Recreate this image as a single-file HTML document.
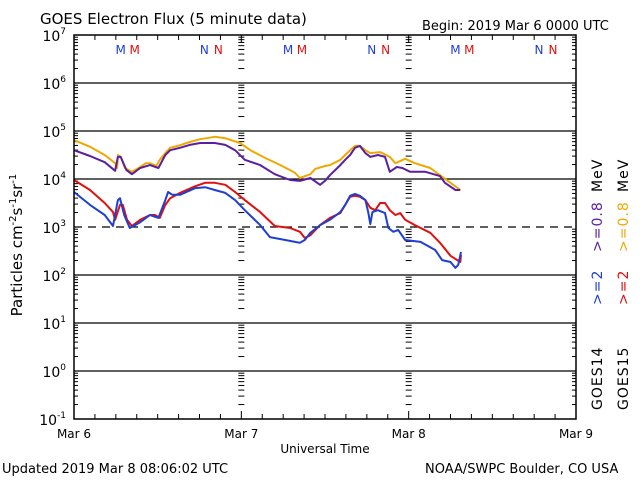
<!DOCTYPE html>
<html><head><meta charset="utf-8"><style>
html,body{margin:0;padding:0;background:#fff;width:640px;height:480px;overflow:hidden}
svg{display:block;font-family:"DejaVu Sans","Liberation Sans",sans-serif}
</style></head><body>
<svg id="chart" width="640" height="480" viewBox="0 0 640 480" xmlns="http://www.w3.org/2000/svg">
<text x="40" y="24" font-size="15">GOES Electron Flux (5 minute data)</text>
<text x="422" y="30" font-size="13">Begin: 2019 Mar 6 0000 UTC</text>
<text x="2" y="473" font-size="13">Updated 2019 Mar  8 08:06:02 UTC</text>
<text x="425" y="473" font-size="13">NOAA/SWPC Boulder, CO USA</text>
<text x="325" y="453" font-size="12" text-anchor="middle">Universal Time</text>
<text transform="translate(22,245) rotate(-90)" font-size="15" text-anchor="middle">Particles cm<tspan dy="-6" font-size="10">-2</tspan><tspan dy="6">s</tspan><tspan dy="-6" font-size="10">-1</tspan><tspan dy="6">sr</tspan><tspan dy="-6" font-size="10">-1</tspan></text>
<g id="grid"></g><g id="ticks"></g><g id="series"></g><g id="marks"></g>
<rect x="74" y="35" width="502" height="384" fill="none" stroke="#000" stroke-width="1.5"/>
<g font-size="14">
<text transform="translate(602,410) rotate(-90)" letter-spacing="1">GOES14</text>
<text transform="translate(602,305) rotate(-90)" fill="#1f3fd0" letter-spacing="1">&gt;=2</text>
<text transform="translate(602,252) rotate(-90)" fill="#5a1fa0" letter-spacing="1">&gt;=0.8</text>
<text transform="translate(602,192) rotate(-90)" letter-spacing="1">MeV</text>
</g>
<g font-size="14">
<text transform="translate(628,410) rotate(-90)" letter-spacing="1">GOES15</text>
<text transform="translate(628,305) rotate(-90)" fill="#e01010" letter-spacing="1">&gt;=2</text>
<text transform="translate(628,252) rotate(-90)" fill="#f0a800" letter-spacing="1">&gt;=0.8</text>
<text transform="translate(628,192) rotate(-90)" letter-spacing="1">MeV</text>
</g>
</svg>
<script>
const yExps=[7,6,5,4,3,2,1,0,-1];
const dayLabels=["Mar 6","Mar 7","Mar 8","Mar 9"];
const o15H=[0,2.3,4.4,5.9,6.2,6.3,6.7,7.3,8.3,9.5,10.3,10.9,11.8,12.3,13.1,13.8,14.9,16.6,18.1,20.2,21.7,23.8,25.3,27.4,29.6,31.7,32.4,33.9,34.6,36.0,36.7,38.2,38.9,39.6,40.3,41.0,41.8,42.5,43.9,45.3,46.1,47.5,48.9,51.1,52.5,54.0,55.4];
const o15V=[4.81,4.67,4.50,4.33,4.23,4.50,4.46,4.23,4.15,4.25,4.33,4.33,4.27,4.40,4.54,4.65,4.69,4.77,4.83,4.88,4.85,4.75,4.60,4.44,4.29,4.13,4.02,4.10,4.21,4.27,4.29,4.40,4.50,4.60,4.69,4.69,4.60,4.54,4.56,4.46,4.33,4.42,4.33,4.23,4.08,3.92,3.77];
const p14H=[0,2.3,4.4,5.9,6.3,6.7,7.5,8.3,9.5,10.9,12.1,13.1,13.8,15.2,16.6,18.1,20.2,21.7,23.1,24.5,26.7,28.8,31.0,32.4,33.9,35.3,36.0,36.7,38.2,38.9,39.6,40.3,41.0,41.8,42.5,43.6,44.6,45.3,46.3,47.1,48.2,50.4,52.5,53.2,54.7,55.4];
const p14V=[4.60,4.48,4.35,4.17,4.46,4.46,4.19,4.10,4.23,4.29,4.23,4.50,4.60,4.65,4.71,4.75,4.75,4.71,4.60,4.40,4.29,4.10,3.98,3.96,4.02,3.88,3.96,4.08,4.29,4.40,4.50,4.65,4.69,4.54,4.46,4.50,4.46,4.15,4.25,4.23,4.15,4.15,4.06,3.92,3.77,3.77];
const r15H=[0,2.3,4.4,5.6,5.9,6.6,7.0,7.6,8.3,9.5,10.9,11.6,12.3,13.1,13.8,15.2,17.4,18.8,20.2,21.7,23.1,24.5,26.7,28.8,31.0,32.4,33.1,33.9,35.3,36.7,38.2,38.9,39.6,40.3,41.0,41.8,42.5,43.2,43.9,44.6,45.3,46.1,46.8,47.5,48.9,51.1,52.5,54.0,55.4,55.5];
const r15V=[3.98,3.77,3.50,3.31,3.15,3.46,3.46,3.15,3.02,3.15,3.25,3.25,3.19,3.46,3.60,3.71,3.85,3.92,3.92,3.88,3.73,3.56,3.31,3.02,2.98,2.90,2.77,2.83,3.04,3.19,3.29,3.46,3.63,3.65,3.63,3.56,3.40,3.35,3.50,3.50,3.35,3.25,3.29,3.15,3.04,2.88,2.67,2.40,2.27,2.42];
const b14H=[0,2.3,4.4,5.6,6.3,6.6,7.2,8.0,9.5,10.9,12.1,13.1,13.5,14.1,15.2,17.4,18.8,20.2,21.7,23.1,24.5,26.7,28.1,30.3,31.7,32.4,33.1,33.9,35.3,36.7,38.2,38.9,39.6,40.3,41.0,41.8,42.2,42.5,42.8,43.6,44.6,45.1,45.8,46.5,47.5,49.7,51.8,52.8,54.0,54.7,55.1,55.5];
const b14V=[3.73,3.46,3.25,3.02,3.56,3.60,3.25,2.98,3.10,3.25,3.19,3.56,3.73,3.67,3.67,3.81,3.83,3.77,3.71,3.56,3.35,3.04,2.79,2.73,2.69,2.67,2.73,2.88,3.04,3.15,3.31,3.46,3.65,3.69,3.65,3.56,3.31,3.06,3.31,3.35,3.29,2.98,2.90,2.94,2.73,2.69,2.52,2.31,2.27,2.15,2.21,2.48];
const mLetters=[["M","#1f3fd0",6.7],["M","#e01010",8.7],["N","#1f3fd0",18.7],["N","#e01010",20.7]];
const X0=74,X1=576,Y0=35,Y1=419,HOURS=72;
const xs=h=>X0+(h/HOURS)*(X1-X0);
const ys=l=>Y0+(7-l)*(Y1-Y0)/8;
const NS="http://www.w3.org/2000/svg";
function mk(tag,attrs,parent){const e=document.createElementNS(NS,tag);for(const k in attrs)e.setAttribute(k,attrs[k]);parent.appendChild(e);return e;}
const grid=document.getElementById('grid'),ticks=document.getElementById('ticks'),series=document.getElementById('series'),marks=document.getElementById('marks');
yExps.forEach(e=>{
  const y=ys(e);
  if(e<7&&e>-1){const l=mk('line',{x1:X0,x2:X1,y1:y,y2:y,stroke:'#000','stroke-width':1.3,'stroke-dasharray':e===3?'8,6':'none'},grid);
  
  }
  const t=mk('text',{x:X0-8,y:y+6,'font-size':14,'text-anchor':'end'},ticks);
  
  
  t.textContent='10';
  const s=mk('tspan',{dy:-7,'font-size':9},t);s.textContent=String(e);
  if(e>-1){for(let k=2;k<=9;k++){const yy=ys(e-1+Math.log10(k));
    [[X0,X0+4],[X1-4,X1],[xs(24)-3,xs(24)+3],[xs(48)-3,xs(48)+3]].forEach(p=>{const m=mk('line',{x1:p[0],x2:p[1],y1:yy,y2:yy,stroke:'#000','stroke-width':1},ticks);
    
    });}}
});
for(let h=0;h<=HOURS;h+=3){const x=xs(h),len=h%24===0?8:5;
  [[Y1,Y1-len],[Y0,Y0+len]].forEach(p=>{const m=mk('line',{x1:x,x2:x,y1:p[0],y2:p[1],stroke:'#000','stroke-width':1},ticks);
  
  });}
dayLabels.forEach((d,i)=>{const t=mk('text',{x:xs(i*24),y:438,'font-size':12,'text-anchor':'middle'},ticks);
  
  
  t.textContent=d;});
function line(H,V,color,name){const pts=H.map((h,i)=>xs(h).toFixed(1)+','+ys(V[i]).toFixed(1)).join(' ');
  const p=mk('polyline',{points:pts,fill:'none',stroke:color,'stroke-width':2,'stroke-linejoin':'round'},series);
  
  }
line(o15H,o15V,'#f0a800','series-goes15-0.8mev');
line(p14H,p14V,'#5a1fa0','series-goes14-0.8mev');
line(r15H,r15V,'#e01010','series-goes15-2mev');
line(b14H,b14V,'#1f3fd0','series-goes14-2mev');
for(let d=0;d<3;d++)mLetters.forEach(m=>{const t=mk('text',{x:xs(d*24+m[2]),y:54,'font-size':12,'text-anchor':'middle',fill:m[1]},marks);
  
  
  t.textContent=m[0];});
</script>
</body></html>
